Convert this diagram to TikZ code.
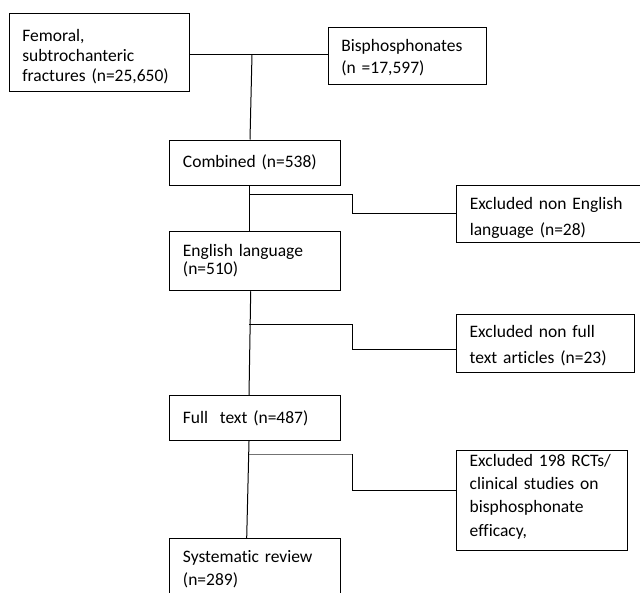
\documentclass[tikz,border=0pt]{standalone}
\usepackage{fontspec}
\setmainfont{Carlito}[Ligatures=CommonOff]
\newcommand\upstrut[1]{\rule{0pt}{#1pt}}
\newcommand\dnstrut[1]{\rule[-#1pt]{0pt}{#1pt}}
\begin{document}
\begin{tikzpicture}[x=1pt,y=-1pt,
  box/.style={draw, line width=1pt, inner xsep=13pt, inner ysep=0pt, align=left,
    font=\fontsize{17.5}{22}\selectfont, anchor=center},
  conn/.style={line width=1pt},
  connlight/.style={line width=0.8pt, draw=black!55}]
\useasboundingbox (0,0) rectangle (640,592);
\clip (0,0) rectangle (640,592);
\fill[white] (0,0) rectangle (640,592);

\node[box, minimum width=179.7, minimum height=77.7, text width=153.7,
  font=\fontsize{17.5}{20}\selectfont] (fem) at (99.2,52.2)
  {\upstrut{20.5}Femoral,\\subtrochanteric\\fractures (n=25,650)};
\node[box, minimum width=157.7, minimum height=57, text width=131.7,
  font=\fontsize{17.5}{22.3}\selectfont] (bis) at (407.2,55.7)
  {\upstrut{16.5}Bisphosphonates\\(n =17,597)};
\node[box, minimum width=170.7, minimum height=45, text width=144.7] (comb) at (255.3,162.5)
  {Combined (n=538)};
\node[box, minimum width=188.3, minimum height=57.3, text width=162.3,
  font=\fontsize{17.5}{25.5}\selectfont] (ex1) at (550.9,213.7)
  {\upstrut{20.5}Excluded non English\\language (n=28)};
\node[box, minimum width=170.7, minimum height=59.7, text width=144.7,
  font=\fontsize{17.5}{18}\selectfont] (eng) at (255.3,260.9)
  {English language\\(n=510)};
\node[box, minimum width=177.6, minimum height=58.3, text width=151.6,
  font=\fontsize{17.5}{26.5}\selectfont] (ex2) at (545.5,343.2)
  {\upstrut{17.5}Excluded non full\\text articles (n=23)};
\node[box, minimum width=170.7, minimum height=44.7, text width=144.7] (full) at (255.3,418.3)
  {Full\ \ text (n=487)};
\node[box, minimum width=170.8, minimum height=100, text width=144.8,
  font=\fontsize{17.5}{23.3}\selectfont] (ex3) at (542.1,500)
  {Excluded 198 RCTs/\\clinical studies on\\bisphosphonate\\efficacy,\dnstrut{9.5}};
\node[box, minimum width=170.7, minimum height=61.7, text width=144.7,
  font=\fontsize{17.5}{22.6}\selectfont] (sr) at (255.3,569.2)
  {Systematic review\\(n=289)};

% top junction
\coordinate (j0) at (252,54.3);
\draw[conn] (fem.east |- j0) -- (bis.west |- j0);
\draw[conn] (j0) -- (250,0 |- comb.north);

% main trunk
\coordinate (b1) at (249,194);
\coordinate (b2) at (249,324.3);
\coordinate (b3) at (249,454);
\draw[conn] (comb.south -| b1) -- (eng.north -| b1);
\draw[conn] (250.7,0 |- eng.south) -- (full.north -| b1);
\draw[conn] (full.south -| b1) -- (246.7,0 |- sr.north);

% exclusion branches
\draw[conn] (b1) -- (352.3,194) -- (352.3,213.7) -- (ex1.west |- 0,213.7);
\draw[conn] (b2) -- (352.3,324.3) -- (352.3,349) -- (ex2.west |- 0,349);
\draw[connlight] (b3) -- (352.3,454);
\draw[conn] (352.3,454) -- (352.3,490.7) -- (ex3.west |- 0,490.7);
\end{tikzpicture}
\end{document}
